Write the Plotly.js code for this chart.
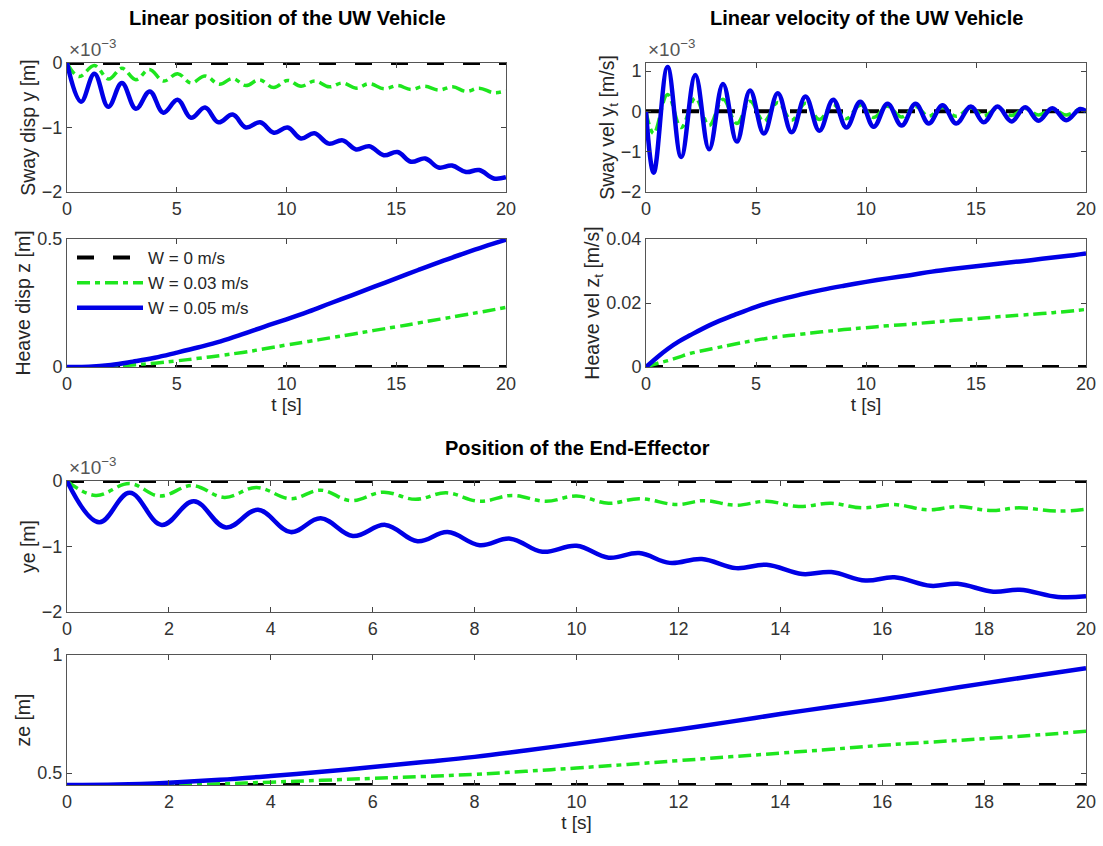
<!DOCTYPE html>
<html>
<head>
<meta charset="utf-8">
<script src="https://cdn.plot.ly/plotly-3.0.1.min.js"></script>
<style>html,body{margin:0;padding:0;background:#fff;}#chart{width:1103px;height:846px;}</style>
</head>
<body>
<div id="chart"></div>
<script>
// ---------------- data ----------------
var legendNames = ["W = 0 m/s", "W = 0.03 m/s", "W = 0.05 m/s"];

// zero-current reference lines
var tRef = [0, 20];
var yRef = [0, 0];
var zeRef = [0.45, 0.45];

// Sway displacement y (x10^-3 m)
var tSwayDispBlue = [0, 0.64, 1.25, 1.88, 2.5, 3.14, 3.77, 4.39, 5.04, 5.65, 6.29, 6.9, 7.55, 8.15, 8.8, 9.42, 10.05, 10.66, 11.27, 11.92, 12.56, 13.17, 13.77, 14.43, 15.06, 15.67, 16.32, 16.93, 17.54, 18.18, 18.78, 19.44, 20];
var swayDispBlue = [0, -0.6, -0.165, -0.68, -0.31, -0.71, -0.44, -0.77, -0.57, -0.85, -0.69, -0.92, -0.80, -1.0, -0.92, -1.08, -1.0, -1.17, -1.09, -1.25, -1.2, -1.34, -1.29, -1.43, -1.38, -1.53, -1.48, -1.62, -1.59, -1.69, -1.66, -1.79, -1.77];
var tSwayDispGreen = [0, 0.55, 1.25, 1.9, 2.5, 3.14, 3.75, 4.4, 5.04, 5.65, 6.29, 6.94, 7.55, 8.15, 8.76, 9.42, 10.05, 10.66, 11.3, 11.95, 12.56, 13.17, 13.77, 14.45, 15.06, 15.67, 16.29, 16.93, 17.57, 18.18, 18.78, 19.44, 20];
var swayDispGreen = [0, -0.21, -0.04, -0.25, -0.08, -0.26, -0.1, -0.28, -0.165, -0.31, -0.2, -0.33, -0.24, -0.35, -0.26, -0.38, -0.27, -0.36, -0.28, -0.37, -0.31, -0.39, -0.32, -0.4, -0.35, -0.41, -0.36, -0.42, -0.37, -0.44, -0.39, -0.46, -0.43];

// Heave displacement z (m)
var tHeave = [0, 1, 2, 3, 4, 5, 6, 7, 8, 9, 10, 11, 12, 13, 14, 15, 16, 17, 18, 19, 20];
var heaveDispBlue = [0, 0.001, 0.008, 0.021, 0.036, 0.056, 0.077, 0.1, 0.128, 0.158, 0.186, 0.216, 0.249, 0.281, 0.314, 0.346, 0.379, 0.411, 0.441, 0.47, 0.497];
var heaveDispGreen = [0, 0.001, 0.003, 0.008, 0.015, 0.024, 0.034, 0.045, 0.057, 0.071, 0.086, 0.1, 0.114, 0.128, 0.143, 0.157, 0.172, 0.187, 0.202, 0.217, 0.233];

// Sway velocity y_t (x10^-3 m/s)
var tSwayVel = [0, 0.35, 0.98, 1.6, 2.24, 2.87, 3.5, 4.13, 4.73, 5.36, 5.99, 6.62, 7.25, 7.88, 8.51, 9.11, 9.74, 10.35, 10.98, 11.62, 12.25, 12.85, 13.48, 14.1, 14.77, 15.35, 15.98, 16.61, 17.24, 17.84, 18.47, 19.1, 19.73, 20];
var swayVelBlue = [0, -1.52, 1.1, -1.13, 0.9, -0.94, 0.68, -0.75, 0.52, -0.55, 0.45, -0.52, 0.37, -0.48, 0.29, -0.4, 0.24, -0.38, 0.19, -0.35, 0.19, -0.3, 0.15, -0.3, 0.12, -0.27, 0.12, -0.25, 0.1, -0.23, 0.08, -0.22, 0.06, 0];
var swayVelGreen = [0, -0.55, 0.42, -0.4, 0.33, -0.35, 0.3, -0.3, 0.25, -0.25, 0.22, -0.22, 0.2, -0.2, 0.17, -0.18, 0.15, -0.15, 0.13, -0.14, 0.12, -0.12, 0.1, -0.12, 0.09, -0.11, 0.08, -0.1, 0.07, -0.09, 0.06, -0.09, 0.05, 0];

// Heave velocity z_t (m/s)
var tHeaveVel = [0, 0.5, 1, 1.5, 2, 3, 4, 5, 6, 7, 8, 9, 10, 11, 12, 13, 14, 15, 16, 17, 18, 19, 20];
var heaveVelBlue = [0, 0.003, 0.0057, 0.008, 0.0099, 0.0134, 0.0162, 0.0188, 0.0209, 0.0226, 0.0241, 0.0254, 0.0266, 0.0277, 0.0287, 0.0298, 0.0307, 0.0315, 0.0323, 0.033, 0.0338, 0.0346, 0.0355];
var heaveVelGreen = [0, 0.0011, 0.002, 0.0031, 0.0042, 0.0057, 0.0071, 0.0084, 0.0094, 0.0102, 0.011, 0.0117, 0.0123, 0.0129, 0.0134, 0.014, 0.0146, 0.0151, 0.0157, 0.0162, 0.0167, 0.0173, 0.018];

// End-effector ye (x10^-3 m)
var tYeBlue = [0, 0.63, 1.23, 1.86, 2.49, 3.12, 3.75, 4.39, 4.98, 5.61, 6.25, 6.88, 7.47, 8.1, 8.7, 9.33, 10.0, 10.63, 11.23, 11.83, 12.46, 13.13, 13.73, 14.43, 15.0, 15.67, 16.24, 16.95, 17.48, 18.18, 18.7, 19.45, 20];
var yeBlue = [0, -0.63, -0.18, -0.67, -0.31, -0.71, -0.44, -0.78, -0.57, -0.84, -0.67, -0.92, -0.78, -0.98, -0.88, -1.08, -0.99, -1.17, -1.1, -1.25, -1.19, -1.33, -1.28, -1.42, -1.39, -1.52, -1.47, -1.6, -1.57, -1.69, -1.66, -1.77, -1.76];
var tYeGreen = [0, 0.56, 1.23, 1.82, 2.46, 3.09, 3.72, 4.39, 4.98, 5.58, 6.21, 6.84, 7.44, 8.1, 8.74, 9.4, 10.0, 10.63, 11.23, 11.97, 12.5, 13.13, 13.73, 14.36, 15.0, 15.59, 16.24, 16.91, 17.48, 18.15, 18.68, 19.45, 20];
var yeGreen = [0, -0.22, -0.04, -0.23, -0.07, -0.25, -0.1, -0.27, -0.14, -0.3, -0.17, -0.28, -0.18, -0.31, -0.22, -0.31, -0.23, -0.34, -0.27, -0.36, -0.3, -0.37, -0.31, -0.39, -0.34, -0.41, -0.36, -0.44, -0.39, -0.45, -0.41, -0.46, -0.43];

// End-effector ze (m)
var tZe = [0, 1, 2, 3, 4, 5, 6, 7, 8, 9, 10, 11, 12, 13, 14, 15, 16, 17, 18, 19, 20];
var zeBlue = [0.45, 0.452, 0.46, 0.472, 0.488, 0.506, 0.526, 0.547, 0.569, 0.596, 0.625, 0.655, 0.685, 0.717, 0.75, 0.781, 0.812, 0.846, 0.88, 0.912, 0.944];
var zeGreen = [0.45, 0.45, 0.451, 0.455, 0.462, 0.47, 0.478, 0.486, 0.495, 0.508, 0.522, 0.537, 0.553, 0.569, 0.585, 0.601, 0.618, 0.632, 0.646, 0.661, 0.677];

// ---------------- styles ----------------
var FONT = "Liberation Sans, Arial, sans-serif";
var cBlack = "#000000", cGreen = "#1ee61e", cBlue = "#0000e6";
var blackLine = {color: cBlack, width: 4, dash: "17px,19px"};
var greenLine = {color: cGreen, width: 3.5, dash: "13px,5px,5px,5px", shape: "spline", smoothing: 1.1};
var blueLine = {color: cBlue, width: 4.5, shape: "spline", smoothing: 1.1};

function panel(n, tB, yBl, tG, yGr, yBlk, showLeg) {
  var xa = n === 1 ? "x" : "x" + n, ya = n === 1 ? "y" : "y" + n;
  return [
    {x: tRef, y: yBlk, xaxis: xa, yaxis: ya, mode: "lines", line: blackLine, name: legendNames[0], showlegend: showLeg, legendgroup: "a", cliponaxis: false},
    {x: tG, y: yGr, xaxis: xa, yaxis: ya, mode: "lines", line: greenLine, name: legendNames[1], showlegend: showLeg, legendgroup: "b"},
    {x: tB, y: yBl, xaxis: xa, yaxis: ya, mode: "lines", line: blueLine, name: legendNames[2], showlegend: showLeg, legendgroup: "c"}
  ];
}

var data = [].concat(
  panel(1, tSwayDispBlue, swayDispBlue, tSwayDispGreen, swayDispGreen, yRef, false),
  panel(2, tHeave, heaveDispBlue, tHeave, heaveDispGreen, yRef, true),
  panel(3, tSwayVel, swayVelBlue, tSwayVel, swayVelGreen, yRef, false),
  panel(4, tHeaveVel, heaveVelBlue, tHeaveVel, heaveVelGreen, yRef, false),
  panel(5, tYeBlue, yeBlue, tYeGreen, yeGreen, yRef, false),
  panel(6, tZe, zeBlue, tZe, zeGreen, zeRef, false)
);

var W = 1103, H = 846;
function px(a, b) { return [a / W, b / W]; }
function py(top, bottom) { return [1 - bottom / H, 1 - top / H]; }

function xax(dom, anchor, tickvals, title) {
  var a = {domain: dom, anchor: anchor, range: [0, 20], tickvals: tickvals,
    ticks: "inside", ticklen: 5, tickcolor: "#444", showline: true, linecolor: "#555", linewidth: 1,
    mirror: "ticks", zeroline: false, showgrid: false, fixedrange: true,
    tickfont: {family: FONT, size: 18, color: "#333"}};
  if (title) a.title = {text: title, font: {family: FONT, size: 19, color: "#262626"}, standoff: 5};
  return a;
}
function yax(dom, anchor, range, tickvals, ticktext, title) {
  var a = {domain: dom, anchor: anchor, range: range, tickvals: tickvals,
    ticks: "inside", ticklen: 5, tickcolor: "#444", showline: true, linecolor: "#555", linewidth: 1,
    mirror: "ticks", zeroline: false, showgrid: false, fixedrange: true,
    tickfont: {family: FONT, size: 18, color: "#333"},
    title: {text: title, font: {family: FONT, size: 19.5, color: "#262626"}, standoff: 1}};
  if (ticktext) a.ticktext = ticktext;
  return a;
}
// exponent label placed at the top-left corner of a subplot
function expNote(xr, yr) {
  return {text: "\u00d710<sup>\u22123</sup>", x: 0, y: 1, xref: xr + " domain", yref: yr + " domain",
    xanchor: "left", yanchor: "bottom", yshift: 1, showarrow: false,
    font: {family: FONT, size: 19, color: "#555"}};
}
function titleNote(text, xPix, yPix) {
  return {text: "<b>" + text + "</b>", x: xPix / W, y: 1 - yPix / H, xref: "paper", yref: "paper",
    xanchor: "center", yanchor: "middle", showarrow: false,
    font: {family: FONT, size: 20, color: "#000"}};
}

var t5 = [0, 5, 10, 15, 20], t2 = [0, 2, 4, 6, 8, 10, 12, 14, 16, 18, 20];
var L = px(67, 506), R = px(646, 1086), F = px(67, 1086);

var layout = {
  width: W, height: H, margin: {l: 0, r: 0, t: 0, b: 0},
  paper_bgcolor: "#fff", plot_bgcolor: "#fff", hovermode: false,
  font: {family: FONT},
  xaxis: xax(L, "y", t5),
  yaxis: yax(py(63, 192), "x", [-2, 0], [-2, -1, 0], ["\u22122", "\u22121", "0"], "Sway disp y [m]"),
  xaxis2: xax(L, "y2", t5, "t [s]"),
  yaxis2: yax(py(239, 367), "x2", [0, 0.5], [0, 0.5], null, "Heave disp z [m]"),
  xaxis3: xax(R, "y3", t5),
  yaxis3: yax(py(63, 192), "x3", [-2, 1.2], [-2, -1, 0, 1], ["\u22122", "\u22121", "0", "1"], "Sway vel y<sub>t</sub> [m/s]"),
  xaxis4: xax(R, "y4", t5, "t [s]"),
  yaxis4: yax(py(239, 367), "x4", [0, 0.04], [0, 0.02, 0.04], null, "Heave vel z<sub>t</sub> [m/s]"),
  xaxis5: xax(F, "y5", t2),
  yaxis5: yax(py(481, 612), "x5", [-2, 0], [-2, -1, 0], ["\u22122", "\u22121", "0"], "ye [m]"),
  xaxis6: xax(F, "y6", t2, "t [s]"),
  yaxis6: yax(py(655, 785), "x6", [0.45, 1], [0.5, 1], null, "ze [m]"),
  showlegend: true,
  legend: {x: 72 / W, y: 1 - 240 / H, xanchor: "left", yanchor: "top", bgcolor: "rgba(0,0,0,0)",
    font: {family: FONT, size: 17, color: "#262626"}, itemwidth: 66, tracegroupgap: 0, traceorder: "normal"},
  annotations: [
    titleNote("Linear position of the UW Vehicle", 287, 18),
    titleNote("Linear velocity of the UW Vehicle", 866, 18),
    titleNote("Position of the End-Effector", 577, 448),
    expNote("x3", "y3"),
    expNote("x", "y"),
    expNote("x5", "y5")
  ]
};

Plotly.newPlot("chart", data, layout, {displayModeBar: false, staticPlot: true});
</script>
</body>
</html>
